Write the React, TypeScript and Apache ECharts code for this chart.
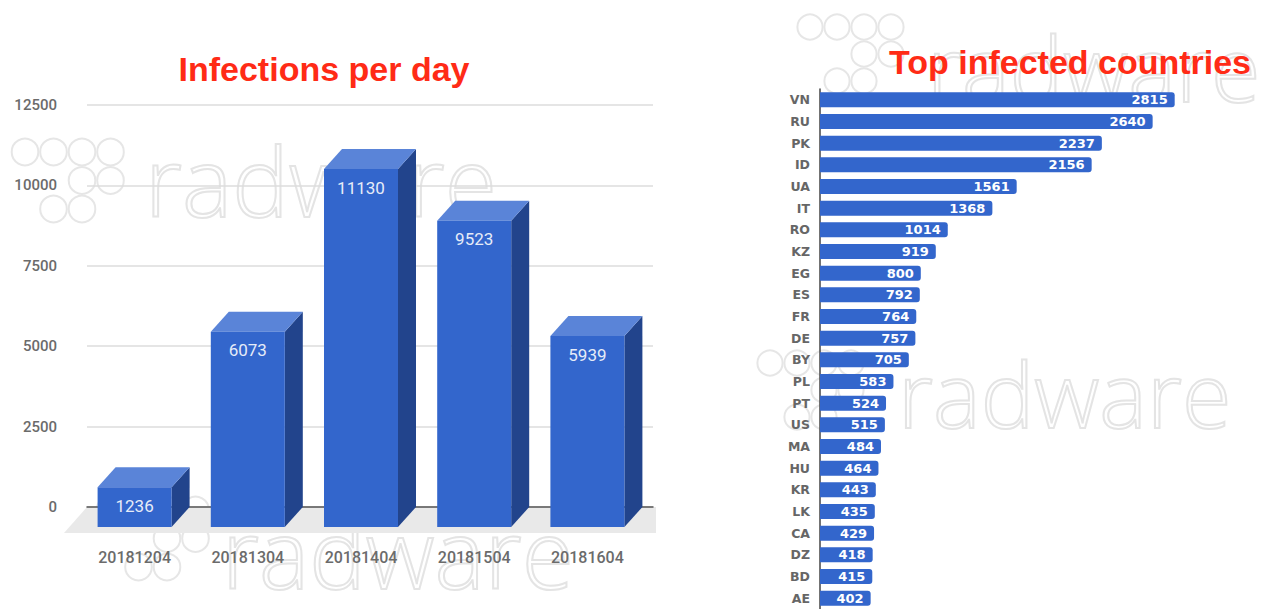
import React, { useEffect, useRef } from "react";
import * as echarts from "echarts";

const dayCategories = ["20181204", "20181304", "20181404", "20181504", "20181604"];
const dayValues = [1236, 6073, 11130, 9523, 5939];
const dayTicks = [0, 2500, 5000, 7500, 10000, 12500];

const countries = ["VN", "RU", "PK", "ID", "UA", "IT", "RO", "KZ", "EG", "ES", "FR", "DE", "BY", "PL", "PT", "US", "MA", "HU", "KR", "LK", "CA", "DZ", "BD", "AE"];
const countryValues = [2815, 2640, 2237, 2156, 1561, 1368, 1014, 919, 800, 792, 764, 757, 705, 583, 524, 515, 484, 464, 443, 435, 429, 418, 415, 402];

const FRONT = "#3366cc";
const TOP = "#5a84d8";
const SIDE = "#22448c";

function watermark(x: number, y: number, size: number, textX: number, textTop: number) {
  const r = size * 0.14;
  const step = size * 0.3;
  const circles = [
    [0, 0], [1, 0], [2, 0], [3, 0],
    [2, 1], [3, 1],
    [1, 2], [2, 2],
  ].map(([c, rr]) => ({
    type: "circle",
    z: -10,
    shape: { cx: x + c * step, cy: y + rr * step, r },
    style: { fill: "none", stroke: "#e6e6e6", lineWidth: 2 },
    silent: true,
  }));
  return [
    ...circles,
    {
      type: "text",
      z: -10,
      x: textX,
      y: textTop,
      style: {
        text: "radware",
        fontSize: size,
        fontFamily: "Open Sans",
        fontWeight: 300,
        fill: "rgba(255,255,255,0)",
        stroke: "#e4e4e4",
        lineWidth: 2,
      },
      silent: true,
    },
  ];
}

export default function App() {
  const ref = useRef<HTMLDivElement>(null);
  useEffect(() => {
    if (!ref.current) return;
    const chart = echarts.init(ref.current, undefined, { renderer: "svg" });
    const dx = 18;
    const dy = 20;
    const w = 74;
    chart.setOption({
      animation: false,
      backgroundColor: "#ffffff",
      title: [
        {
          text: "Infections per day",
          left: 319,
          top: 47,
          textAlign: "center",
          textStyle: { color: "#ff2b16", fontSize: 34, fontWeight: "bold", fontFamily: "Liberation Sans" },
        },
        {
          text: "Top infected countries",
          left: 1065,
          top: 40,
          textAlign: "center",
          textStyle: { color: "#ff2b16", fontSize: 34, fontWeight: "bold", fontFamily: "Liberation Sans" },
        },
      ],
      graphic: [
        ...watermark(25, 152, 95, 145, 132),
        ...watermark(110, 510, 95, 222, 504),
        ...watermark(810, 27, 90, 927, 22),
        ...watermark(770, 363, 90, 898, 348),
        {
          type: "polygon",
          z: -1,
          shape: { points: [[87, 507], [656, 507], [656, 533], [64, 533]] },
          style: { fill: "#e9e9e9" },
          silent: true,
        },
      ],
      grid: [
        { left: 87, top: 105, width: 566, height: 402 },
        { left: 820, top: 89, width: 378, height: 524 },
      ],
      xAxis: [
        {
          gridIndex: 0,
          type: "category",
          data: dayCategories,
          axisLine: { show: true, lineStyle: { color: "#555", width: 1.5 } },
          axisTick: { show: false },
          axisLabel: {
            margin: 42,
            color: "#6b6b6b",
            fontSize: 16,
            fontFamily: "Roboto",
            fontWeight: 500,
            padding: [0, 18, 0, 0],
          },
          z: 0,
        },
        {
          gridIndex: 1,
          type: "value",
          min: 0,
          max: 3000,
          show: false,
        },
      ],
      yAxis: [
        {
          gridIndex: 0,
          type: "value",
          min: dayTicks[0],
          max: dayTicks[dayTicks.length - 1],
          interval: 2500,
          axisLine: { show: false },
          axisTick: { show: false },
          splitLine: { lineStyle: { color: "#dcdcdc", width: 1.5 } },
          axisLabel: {
            margin: 30,
            color: "#6b6b6b",
            fontSize: 15,
            fontFamily: "Roboto",
            fontWeight: 500,
            formatter: (v: number) => String(v),
          },
        },
        {
          gridIndex: 1,
          type: "category",
          data: countries,
          inverse: true,
          axisLine: { show: true, lineStyle: { color: "#444", width: 1.5 } },
          axisTick: { show: false },
          axisLabel: { margin: 10, color: "#666666", fontSize: 12.5, fontWeight: "bold", fontFamily: "DejaVu Sans" },
        },
      ],
      series: [
        {
          type: "custom",
          xAxisIndex: 0,
          yAxisIndex: 0,
          data: dayValues.map((v, i) => [i, v]),
          z: 5,
          renderItem: (params: any, api: any) => {
            const i = api.value(0);
            const v = api.value(1);
            const top = api.coord([i, v]);
            const base = api.coord([i, 0]);
            const cx = top[0];
            const fl = cx - w / 2 - dx / 2;
            const fr = fl + w;
            const ft = top[1] + dy;
            const fb = base[1] + dy;
            return {
              type: "group",
              children: [
                {
                  type: "polygon",
                  shape: { points: [[fr, ft], [fr + dx, ft - dy], [fr + dx, fb - dy], [fr, fb]] },
                  style: { fill: SIDE },
                },
                {
                  type: "polygon",
                  shape: { points: [[fl, ft], [fr, ft], [fr + dx, ft - dy], [fl + dx, ft - dy]] },
                  style: { fill: TOP },
                },
                {
                  type: "rect",
                  shape: { x: fl, y: ft, width: w, height: fb - ft },
                  style: { fill: FRONT },
                },
                {
                  type: "text",
                  x: (fl + fr) / 2,
                  y: ft + 10,
                  style: {
                    text: String(v),
                    textAlign: "center",
                    textVerticalAlign: "top",
                    fill: "#e6ecf8",
                    fontSize: 17,
                    fontFamily: "Roboto",
                  },
                },
              ],
            };
          },
        },
        {
          type: "bar",
          xAxisIndex: 1,
          yAxisIndex: 1,
          data: countryValues,
          barWidth: 15,
          itemStyle: { color: FRONT, borderRadius: [0, 3, 3, 0] },
          label: {
            show: true,
            position: "insideRight",
            color: "#ffffff",
            fontSize: 13,
            fontWeight: "bold",
            fontFamily: "DejaVu Sans",
            distance: 7,
          },
        },
      ],
    });
    return () => chart.dispose();
  }, []);
  return (
    <div
      ref={ref}
      style={{ position: "absolute", left: 0, top: 0, width: 1275, height: 609 }}
    />
  );
}
